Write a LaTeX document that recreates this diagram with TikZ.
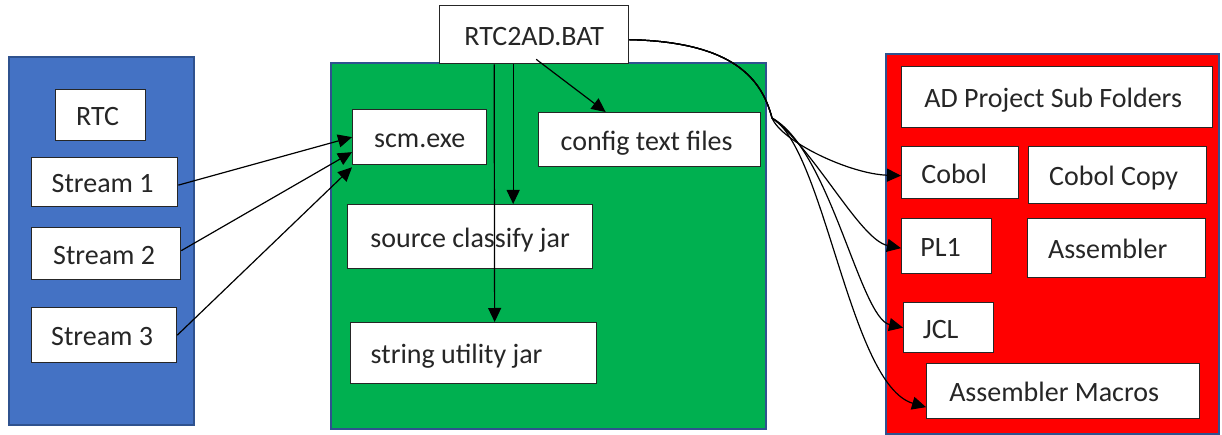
\documentclass[tikz,border=0pt]{standalone}
\usepackage{fontspec}
\setmainfont{Carlito}
\usetikzlibrary{arrows.meta}
\definecolor{pblue}{HTML}{4472C4}
\definecolor{pgreen}{HTML}{00B050}
\definecolor{pred}{HTML}{FF0000}
\definecolor{edge}{HTML}{2F528F}
\definecolor{txt}{HTML}{262626}
\tikzset{
  panel/.style={draw=edge, line width=2pt, anchor=north west, inner sep=0pt},
  wbox/.style={draw=txt, fill=white, line width=1.3pt, anchor=north west, inner sep=0pt,
    text=txt, font=\fontsize{28}{33}\selectfont, text height=21pt, text depth=0pt},
  arr/.style={draw=black, line width=1.2pt, -{Triangle[length=14pt,width=13pt]}},
}
\begin{document}
\begin{tikzpicture}[x=1pt,y=-1pt]
\useasboundingbox (0,0) rectangle (1222,435);
% panels
\node[panel, fill=pblue, minimum width=185pt, minimum height=368pt] (blue) at (8,56) {};
\node[panel, fill=pgreen, minimum width=435pt, minimum height=366pt] (green) at (330,62) {};
\node[panel, fill=pred, minimum width=333pt, minimum height=380pt] (red) at (885,53) {};
% left
\node[wbox, minimum width=90pt, minimum height=51pt] (rtc) at (55,89) {RTC\hspace*{6pt}};
\node[wbox, minimum width=146pt, minimum height=49pt] (s1) at (31,157) {Stream 1\hspace*{4pt}};
\node[wbox, minimum width=149pt, minimum height=52pt] (s2) at (31,227) {Stream 2\hspace*{4pt}};
\node[wbox, minimum width=145pt, minimum height=55pt] (s3) at (31,307) {Stream 3\hspace*{4pt}};
% middle
\node[wbox, minimum width=189pt, minimum height=58pt] (bat) at (439,5) {RTC2AD.BAT};
\node[wbox, minimum width=134pt, minimum height=55pt] (scm) at (352,109) {scm.exe};
\node[wbox, minimum width=222pt, minimum height=54pt] (cfg) at (538,112) {config text files\hspace*{6pt}};
\node[wbox, minimum width=245pt, minimum height=64pt] (src) at (347,204) {source classify jar};
\node[wbox, minimum width=246pt, minimum height=61pt] (str) at (350,322) {string utility jar\hspace*{34pt}};
% right
\node[wbox, minimum width=311pt, minimum height=61pt] (ad) at (901,66) {AD Project Sub Folders\hspace*{8pt}};
\node[wbox, minimum width=117pt, minimum height=52pt] (cob) at (901,146) {Cobol\hspace*{12pt}};
\node[wbox, minimum width=178pt, minimum height=57pt] (cobc) at (1028,146) {Cobol Copy\hspace*{8pt}};
\node[wbox, minimum width=90pt, minimum height=55pt] (pl1) at (901,218) {PL1\hspace*{12pt}};
\node[wbox, minimum width=178pt, minimum height=59pt] (asm) at (1027,218) {Assembler\hspace*{18pt}};
\node[wbox, minimum width=90pt, minimum height=50pt] (jcl) at (903,302) {JCL\hspace*{16pt}};
\node[wbox, minimum width=273pt, minimum height=55pt] (am) at (926,363) {Assembler Macros\hspace*{18pt}};
% stream arrows
\draw[arr] ([yshift=-3pt]s1.east) -- (scm.west);
\draw[arr] ([yshift=3pt]s2.east) -- ([yshift=-15pt]scm.west);
\draw[arr] (s3.east) -- ([yshift=-2pt]scm.south west);
% bat arrows
\draw[arr] ([xshift=-40pt]bat.south) -- ([xshift=21pt]str.north);
\draw[arr] ([xshift=-21pt]bat.south) -- ([xshift=43pt]src.north);
\draw[arr] ([xshift=2pt,yshift=5pt]bat.south) -- ([xshift=-44pt]cfg.north);
% curves to red
\coordinate (sp) at (772,118);
\draw[arr] ([yshift=-5pt]bat.east) .. controls (735,42) and (762,80) .. (sp)
  .. controls (782,142) and (850,174) .. ([yshift=-3pt]cob.west);
\draw[arr] ([yshift=-5pt]bat.east) .. controls (735,42) and (762,80) .. (sp)
  .. controls (815,150) and (860,240) .. ([yshift=-2pt]pl1.west);
\draw[arr] ([yshift=-5pt]bat.east) .. controls (735,42) and (762,80) .. (sp)
  .. controls (830,150) and (860,318) .. (jcl.west);
\draw[arr] ([yshift=-5pt]bat.east) .. controls (735,42) and (762,80) .. (sp)
  .. controls (825,150) and (850,385) .. ([yshift=-16pt]am.west);
\end{tikzpicture}
\end{document}
